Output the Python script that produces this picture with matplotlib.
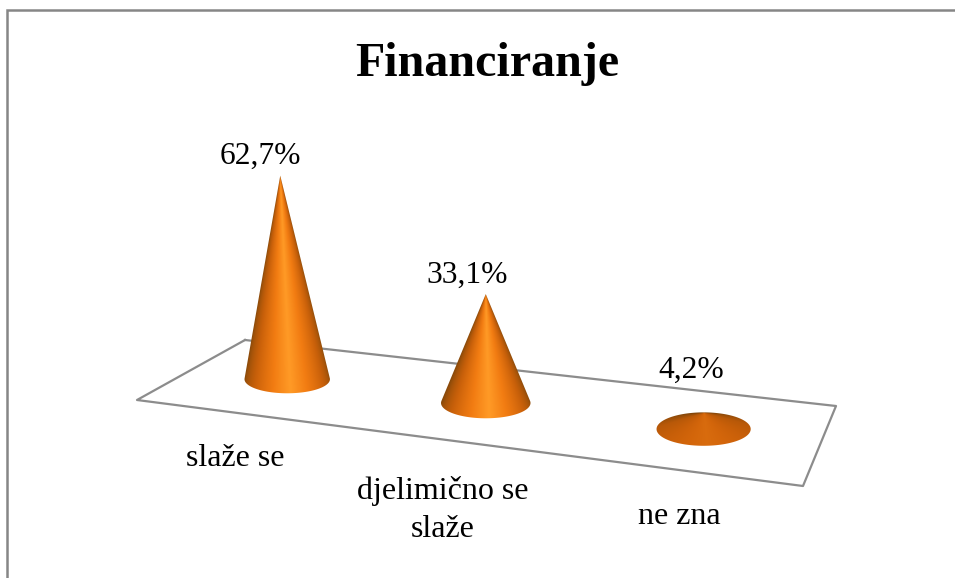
import numpy as np
import matplotlib
matplotlib.use('Agg')
import matplotlib.pyplot as plt
from matplotlib.colors import LinearSegmentedColormap
from matplotlib.patches import Polygon

# Data
categories = ['slaže se', 'djelimično se\nslaže', 'ne zna']
values = [62.7, 33.1, 4.2]
value_labels = ['62,7%', '33,1%', '4,2%']
title = 'Financiranje'

# Layout, in image pixels
floor_corners = np.array([[245, 340], [836, 406], [803, 486], [137, 400]], dtype=float)
value_label_pos = [(260, 156), (467, 275), (691, 370)]
category_label_pos = [(235, 458), (443, 510), (679, 516)]

plt.rcParams['font.family'] = ['Liberation Serif', 'DejaVu Serif']

# colour around a cone, 0 = front of the rim, 1 = back of the rim
shade_tall = LinearSegmentedColormap.from_list('tall', [
    (0.0, '#ff9a26'), (0.13, '#f27c12'), (0.30, '#c8600a'),
    (0.50, '#8a4a0a'), (1.0, '#6e3a06')])
shade_flat = LinearSegmentedColormap.from_list('flat', [
    (0.0, '#d2640a'), (0.55, '#c25c08'), (0.85, '#8a4a0a'), (1.0, '#703c06')])


# Floor plane (u along the categories, v from back to front) to pixels
def floor_homography(corners):
    square = [(0, 0), (1, 0), (1, 1), (0, 1)]
    rows, rhs = [], []
    for (u, v), (x, y) in zip(square, corners):
        rows.append([u, v, 1, 0, 0, 0, -u * x, -v * x])
        rows.append([0, 0, 0, u, v, 1, -u * y, -v * y])
        rhs += [x, y]
    return np.append(np.linalg.solve(np.array(rows), np.array(rhs)), 1).reshape(3, 3)


H = floor_homography(floor_corners)


def to_pixels(u, v):
    p = H @ np.array([u, v, 1.0])
    return p[:2] / p[2]


def draw_cone(ax, i, value):
    u = (i + 0.5) / len(values)
    cx, cy = to_pixels(u, 0.5)
    local_w = np.linalg.norm(to_pixels(u + 0.5, 0.5) - to_pixels(u - 0.5, 0.5))
    local_d = abs(to_pixels(u, 1)[1] - to_pixels(u, 0)[1])
    rx = 0.037 * local_w + 21.4
    ry = 0.2 * local_d + 1.5
    height = value * 3.2 + 3
    # verticals lean away from the middle of the plot
    tx = cx + (cx - 485) * height * 1.73e-4
    ty = cy - height

    # theta = 0 is the point of the rim nearest the viewer
    theta = np.linspace(-np.pi, np.pi, 1441)
    rim_x = cx + rx * np.sin(theta)
    rim_y = cy + ry * np.cos(theta)
    phi_rim = np.arctan2(rim_x - tx, rim_y - ty)
    if ((tx - cx) / rx) ** 2 + ((ty - cy) / ry) ** 2 < 1:
        # tip inside the rim: the whole cone surface is seen
        order = np.argsort(phi_rim)
        phi_f, theta_f = phi_rim[order], theta[order]
        hull = np.column_stack([rim_x, rim_y])
    else:
        a, b = np.argmin(phi_rim), np.argmax(phi_rim)
        phi_f, theta_f = phi_rim[a:b + 1], theta[a:b + 1]
        hull = np.vstack([[tx, ty], np.column_stack([rim_x[a:b + 1], rim_y[a:b + 1]])])

    x0, x1 = int(cx - rx - 3), int(cx + rx + 3)
    y0, y1 = int(min(ty, cy - ry) - 3), int(cy + ry + 3)
    xs = np.arange(x0, x1, 0.5) + 0.25
    ys = np.arange(y0, y1, 0.5) + 0.25
    X, Y = np.meshgrid(xs, ys)
    th = np.interp(np.arctan2(X - tx, Y - ty), phi_f, theta_f)
    pos = np.abs(th - 0.08) / np.pi
    flat = 1 - min(1.0, value / 30)
    rgb = (1 - flat) * shade_tall(np.clip(pos, 0, 1))[..., :3] + flat * shade_flat(np.clip(pos, 0, 1))[..., :3]

    im = ax.imshow(rgb, extent=(x0, x1, y1, y0), aspect='auto', zorder=3 + i,
                   interpolation='bilinear')
    patch = Polygon(hull, closed=True, transform=ax.transData, facecolor='none', edgecolor='none')
    ax.add_patch(patch)
    im.set_clip_path(patch)


fig = plt.figure(figsize=(9.55, 5.78), dpi=100)
ax = fig.add_axes([0, 0, 1, 1])
ax.set_xlim(0, 955)
ax.set_ylim(578, 0)
ax.set_autoscale_on(False)
ax.axis('off')

# Chart border, open on the right and at the bottom
ax.plot([7, 7, 955], [578, 10, 10], color='#868686', lw=1.8, solid_joinstyle='miter')

closed = np.vstack([floor_corners, floor_corners[:1]])
ax.plot(closed[:, 0], closed[:, 1], color='#8c8c8c', lw=1.6, zorder=2)

for i, v in enumerate(values):
    draw_cone(ax, i, v)

ax.text(487, 64, title, fontsize=34.6, fontweight='bold', ha='center', va='center')
for (x, y), lab in zip(value_label_pos, value_labels):
    ax.text(x, y, lab, fontsize=22.7, ha='center', va='center', zorder=10)
for (x, y), lab in zip(category_label_pos, categories):
    ax.text(x, y, lab, fontsize=23, ha='center', va='center', linespacing=1.38, zorder=10)

fig.savefig('out.png', dpi=100)
